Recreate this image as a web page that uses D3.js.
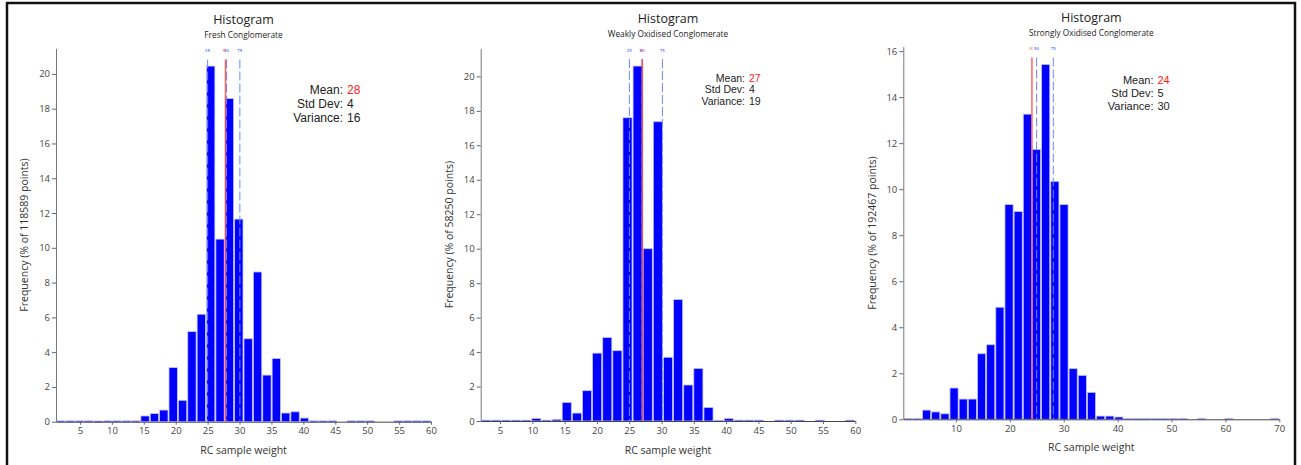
<!DOCTYPE html>
<html>
<head>
<meta charset="UTF-8">
<title>Histograms</title>
<script src="https://cdn.jsdelivr.net/npm/d3@7"></script>
<style>
    body, html { margin: 0; padding: 0; background: #fff; }
    svg { display: block; }
    .tick text { fill: #444; }
</style>
</head>
<body>
<svg id="chart" width="1301" height="465"></svg>
<script>
    // bin values (% of points)
    var freshValues = [0.05, 0.05, 0.05, 0.05, 0.04, 0.05, 0.05, 0.05, 0.05, 0.33, 0.47, 0.67, 3.11, 1.23, 5.18, 6.18,
        20.45, 10.5, 18.58, 11.65, 4.77, 8.61, 2.68, 3.63, 0.5, 0.57, 0.21, 0.05, 0.05, 0.05, 0, 0.05, 0.05, 0.05,
        0, 0, 0.05, 0.05, 0.05, 0.05];
    var weakValues = [0.05, 0.05, 0.05, 0.05, 0.05, 0.15, 0.05, 0.1, 1.08, 0.46, 1.76, 3.94, 4.85, 4.08, 17.6, 20.6,
        10.0, 17.37, 3.7, 7.05, 2.09, 3.05, 0.79, 0.04, 0.15, 0.05, 0.05, 0.05, 0, 0.05, 0.05, 0.05, 0, 0.05, 0, 0, 0.05];
    var strongValues = [0.04, 0.04, 0.4, 0.32, 0.24, 1.36, 0.88, 0.88, 2.85, 3.24, 4.87, 9.33, 9.03, 13.26, 11.73,
        15.42, 10.34, 9.33, 2.2, 1.91, 1.17, 0.14, 0.14, 0.1, 0.04, 0.04, 0.04, 0.04, 0.04, 0.04, 0.04, 0, 0.04,
        0, 0, 0.04, 0, 0, 0, 0, 0.04];

    // bin layout: [first edge, last edge]
    var freshRange = [1.24, 60];
    var weakRange = [2, 60];
    var strongRange = [0.3, 70];

    var subtitles = ["Fresh Conglomerate", "Weakly Oxidised Conglomerate", "Strongly Oxidised Conglomerate"];
    var pointCounts = ["118589", "58250", "192467"];
    var means = [27.8, 27.03, 24.1];
    var meanLabels = ["28", "27", "24"];
    var stdDevs = ["4", "4", "5"];
    var variances = ["16", "19", "30"];
    // percentile lines [label, value]
    var freshPct = [["25", 25.0], ["50", 27.97], ["75", 30.05]];
    var weakPct = [["25", 25.02], ["50", 26.98], ["75", 30.13]];
    var strongPct = [["50", 24.97], ["75", 28.06]];

    var xTicks1 = [5, 10, 15, 20, 25, 30, 35, 40, 45, 50, 55, 60];
    var xTicks3 = [10, 20, 30, 40, 50, 60, 70];
    var yTicks1 = [0, 2, 4, 6, 8, 10, 12, 14, 16, 18, 20];
    var yTicks3 = [0, 2, 4, 6, 8, 10, 12, 14, 16];

    var svg = d3.select("#chart");

    // frame round the whole picture
    svg.append("rect")
        .attr("x", 7).attr("y", 3)
        .attr("width", 1288).attr("height", 480)
        .attr("fill", "none")
        .attr("stroke", "#111")
        .attr("stroke-width", 2.5);

    var panels = [
        { values: freshValues, range: freshRange, pct: freshPct, xTicks: xTicks1, yTicks: yTicks1,
          left: 56, right: 431, top: 48.3, bottom: 421.7, xMin: 1.24,
          titleY: 24, subY: 37.7, pctY: 51.5, lineTop: 59.5, ylabX: 24.5, xlabY: 454, tickY: 434,
          statX: 343, statY: 94, statStep: 14.2, statSize: 12 },
        { values: weakValues, range: weakRange, pct: weakPct, xTicks: xTicks1, yTicks: yTicks1,
          left: 480.7, right: 855.3, top: 48.3, bottom: 421, xMin: 2,
          titleY: 23, subY: 37, pctY: 51.5, lineTop: 59, ylabX: 449, xlabY: 454, tickY: 434,
          statX: 745, statY: 81.5, statStep: 11.8, statSize: 10.5 },
        { values: strongValues, range: strongRange, pct: strongPct, xTicks: xTicks3, yTicks: yTicks3,
          left: 903.3, right: 1279.3, top: 46.7, bottom: 419.3, xMin: 0.23,
          titleY: 22, subY: 35.5, pctY: 49.5, lineTop: 57.5, ylabX: 872, xlabY: 451, tickY: 432,
          statX: 1153.5, statY: 84.3, statStep: 12.6, statSize: 11 }
    ];

    function drawPanel(p, i) {
        var g = svg.append("g");
        var n = p.values.length;
        var w = (p.range[1] - p.range[0]) / n;
        var bins = p.values.map(function (v, k) {
            return { x0: p.range[0] + k * w, x1: p.range[0] + (k + 1) * w, v: v };
        });

        var x = d3.scaleLinear().domain([p.xMin, p.range[1]]).range([p.left, p.right]);
        var y = d3.scaleLinear().domain([0, d3.max(p.values) * 1.05]).range([p.bottom, p.top]);
        var cx = (p.left + p.right) / 2;

        g.append("text")
            .attr("x", cx).attr("y", p.titleY)
            .attr("text-anchor", "middle")
            .attr("font-family", "Open Sans")
            .attr("font-size", "12.5px")
            .attr("fill", "#222")
            .text("Histogram");

        g.append("text")
            .attr("x", cx).attr("y", p.subY)
            .attr("text-anchor", "middle")
            .attr("font-family", "Open Sans")
            .attr("font-size", "8.3px")
            .attr("fill", "#222")
            .text(subtitles[i]);

        g.selectAll(".bar")
            .data(bins.filter(function (d) { return d.v > 0; }))
            .enter()
            .append("rect")
            .attr("class", "bar")
            .attr("x", function (d) { return x(d.x0) + 0.5; })
            .attr("y", function (d) { return y(d.v); })
            .attr("width", function (d) { return x(d.x1) - x(d.x0) - 1; })
            .attr("height", function (d) { return Math.max(1.2, y(0) - y(d.v)); })
            .attr("fill", "#0000ff")
            .attr("stroke", "#c4c4ff")
            .attr("stroke-width", 0.8);

        // axes
        var xAxis = g.append("g")
            .attr("transform", "translate(0," + p.bottom + ")")
            .call(d3.axisBottom(x).tickValues(p.xTicks).tickSize(3).tickSizeOuter(0));
        xAxis.select(".domain").attr("stroke", "#444");
        xAxis.selectAll(".tick line").attr("stroke", "#666");
        xAxis.selectAll("text")
            .attr("font-family", "Open Sans")
            .attr("font-size", "9.5px")
            .attr("y", p.tickY - p.bottom)
            .attr("dy", null);

        var yAxis = g.append("g")
            .attr("transform", "translate(" + p.left + ",0)")
            .call(d3.axisLeft(y).tickValues(p.yTicks).tickSize(4).tickSizeOuter(0));
        yAxis.select(".domain").attr("stroke", "#777");
        yAxis.selectAll(".tick line").attr("stroke", "#666");
        yAxis.selectAll("text")
            .attr("font-family", "Open Sans")
            .attr("font-size", "9.5px")
            .attr("x", -6);

        g.append("text")
            .attr("transform", "translate(" + p.ylabX + "," + ((p.top + p.bottom) / 2) + ") rotate(-90)")
            .attr("text-anchor", "middle")
            .attr("dy", "0.35em")
            .attr("font-family", "Open Sans")
            .attr("font-size", "10.5px")
            .attr("fill", "#333")
            .text("Frequency (% of " + pointCounts[i] + " points)");

        g.append("text")
            .attr("x", cx).attr("y", p.xlabY)
            .attr("text-anchor", "middle")
            .attr("font-family", "Open Sans")
            .attr("font-size", "10.5px")
            .attr("fill", "#333")
            .text("RC sample weight");

        // percentile lines
        g.selectAll(".pct")
            .data(p.pct)
            .enter()
            .append("line")
            .attr("x1", function (d) { return x(d[1]); })
            .attr("x2", function (d) { return x(d[1]); })
            .attr("y1", p.lineTop)
            .attr("y2", p.bottom)
            .attr("stroke", "#6a88ff")
            .attr("stroke-width", 1)
            .attr("stroke-dasharray", "9,3");

        g.selectAll(".pct-label")
            .data(p.pct)
            .enter()
            .append("text")
            .attr("x", function (d) { return x(d[1]); })
            .attr("y", p.pctY)
            .attr("text-anchor", "middle")
            .attr("font-family", "DejaVu Sans")
            .attr("font-size", "4px")
            .attr("fill", "#3050ff")
            .text(function (d) { return d[0]; });

        // mean line
        g.append("line")
            .attr("x1", x(means[i])).attr("x2", x(means[i]))
            .attr("y1", p.lineTop).attr("y2", p.bottom)
            .attr("stroke", "#ff3030")
            .attr("stroke-opacity", 0.75)
            .attr("stroke-width", 1.5);

        g.append("text")
            .attr("x", x(means[i]) - 1).attr("y", p.pctY)
            .attr("text-anchor", "middle")
            .attr("font-family", "DejaVu Sans")
            .attr("font-size", "4px")
            .attr("fill", "#ff3030")
            .attr("fill-opacity", 0.7)
            .text("M");

        // stats block
        var stats = [["Mean:", meanLabels[i], "#ff2020"], ["Std Dev:", stdDevs[i], "#222"], ["Variance:", variances[i], "#222"]];
        stats.forEach(function (s, k) {
            g.append("text")
                .attr("x", p.statX).attr("y", p.statY + k * p.statStep)
                .attr("text-anchor", "end")
                .attr("font-family", "Liberation Sans")
                .attr("font-size", p.statSize + "px")
                .attr("fill", "#222")
                .text(s[0]);
            g.append("text")
                .attr("x", p.statX + 4).attr("y", p.statY + k * p.statStep)
                .attr("font-family", "Liberation Sans")
                .attr("font-size", p.statSize + "px")
                .attr("fill", s[2])
                .text(s[1]);
        });
    }

    panels.forEach(drawPanel);
</script>
</body>
</html>
